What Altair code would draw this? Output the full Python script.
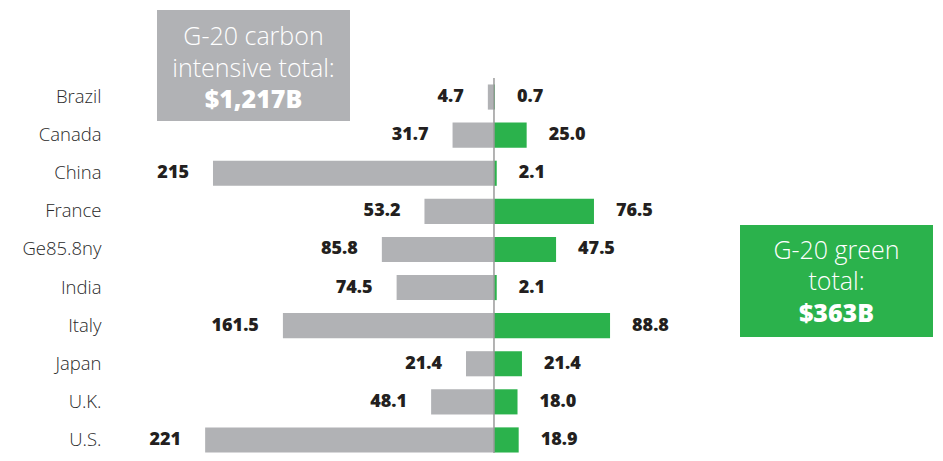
import altair as alt
import pandas as pd

countries = ["Brazil", "Canada", "China", "France", "Ge85.8ny", "India", "Italy", "Japan", "U.K.", "U.S."]
carbon = [4.7, 31.7, 215, 53.2, 85.8, 74.5, 161.5, 21.4, 48.1, 221]
green = [0.7, 25.0, 2.1, 76.5, 47.5, 2.1, 88.8, 21.4, 18.0, 18.9]
carbon_labels = ["4.7", "31.7", "215", "53.2", "85.8", "74.5", "161.5", "21.4", "48.1", "221"]
green_labels = ["0.7", "25.0", "2.1", "76.5", "47.5", "2.1", "88.8", "21.4", "18.0", "18.9"]
grey_box_lines = ["G-20 carbon", "intensive total:", "$1,217B"]
green_box_lines = ["G-20 green", "total:", "$363B"]

GREY = "#b1b2b5"
GREEN = "#2bb24c"
FONT = "Open Sans"

df = pd.DataFrame({
    "country": countries,
    "carbon": carbon,
    "green": green,
    "carbon_label": carbon_labels,
    "green_label": green_labels,
})
df["carbon_neg"] = -df["carbon"]
df["zero"] = 0

xs = alt.Scale(domain=[-293.8, 335.9], nice=False, zero=False)
ys = alt.Scale(domain=countries, range=[0, 381], paddingInner=0.34, paddingOuter=0.17)
yenc = alt.Y("country:N", scale=ys, sort=countries, title=None,
             axis=alt.Axis(ticks=False, domain=False, labelPadding=9, labelFont=FONT,
                           labelFontSize=18.5, labelFontWeight=300, labelColor="#2a2a2a"))

base = alt.Chart(df)

grey_bars = base.mark_bar(color=GREY).encode(
    x=alt.X("carbon_neg:Q", scale=xs, axis=None), x2="zero:Q", y=yenc)
green_bars = base.mark_bar(color=GREEN).encode(
    x=alt.X("zero:Q", scale=xs, axis=None), x2="green:Q", y=yenc)
grey_text = base.mark_text(align="right", baseline="middle", dx=-24, font=FONT, fontSize=18,
                           fontWeight=800, color="#231f20").encode(
    x=alt.X("carbon_neg:Q", scale=xs, axis=None), y=yenc, text="carbon_label:N")
green_text = base.mark_text(align="left", baseline="middle", dx=22, font=FONT, fontSize=18,
                            fontWeight=800, color="#231f20").encode(
    x=alt.X("green:Q", scale=xs, axis=None), y=yenc, text="green_label:N")

rule = alt.Chart(pd.DataFrame({"zero": [0]})).mark_rule(color="#9a9a9a", strokeWidth=1.5).encode(
    x=alt.X("zero:Q", scale=xs, axis=None))

one = pd.DataFrame({"k": [0]})
grey_box = alt.Chart(one).mark_rect(color=GREY).encode(
    x=alt.value(47), x2=alt.value(240), y=alt.value(-68), y2=alt.value(43))
green_box = alt.Chart(one).mark_rect(color=GREEN).encode(
    x=alt.value(630), x2=alt.value(823), y=alt.value(147), y2=alt.value(259))

layers = [grey_bars, green_bars, rule, grey_text, green_text, grey_box, green_box]

grey_y = [-41, -9, 22]
green_y = [173, 204, 236]
for i, line in enumerate(grey_box_lines):
    layers.append(alt.Chart(one).mark_text(
        align="center", baseline="middle", font=FONT, fontSize=25,
        fontWeight=800 if i == 2 else 300, color="white", text=line).encode(
        x=alt.value(143.5), y=alt.value(grey_y[i])))
for i, line in enumerate(green_box_lines):
    layers.append(alt.Chart(one).mark_text(
        align="center", baseline="middle", font=FONT, fontSize=25,
        fontWeight=800 if i == 2 else 300, color="white", text=line).encode(
        x=alt.value(726.5), y=alt.value(green_y[i])))

chart = alt.layer(*layers).properties(
    width=823, height=375,
    autosize=alt.AutoSizeParams(type="none"),
    padding={"left": 102, "top": 70, "right": 2, "bottom": 0},
).configure_view(stroke=None).configure_axis(grid=False)

chart.save("out.html", embed_options={"renderer": "svg", "actions": False})
